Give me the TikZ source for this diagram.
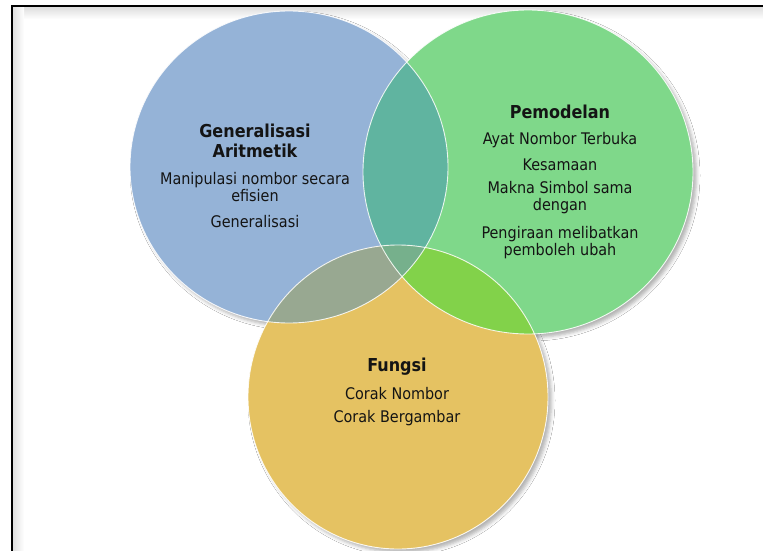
\documentclass[tikz,border=0pt]{standalone}
\usepackage{fontspec}
\setmainfont{DejaVu Sans Condensed}
\usetikzlibrary{shadows.blur}
\definecolor{cblue}{RGB}{149,179,215}
\definecolor{cgreen}{RGB}{127,216,138}
\definecolor{cyellow}{RGB}{229,194,98}
\definecolor{cbg}{RGB}{96,180,160}
\definecolor{cby}{RGB}{152,168,145}
\definecolor{cgy}{RGB}{130,210,74}
\definecolor{cbgy}{RGB}{118,176,140}
\definecolor{ctext}{RGB}{20,20,20}
\tikzset{
  ttl/.style={font=\bfseries\fontsize{17.8}{19.5}\selectfont, text=ctext, align=center, inner sep=0pt},
  itm/.style={font=\fontsize{16}{16.5}\selectfont, text=ctext, align=center, inner sep=0pt},
  shd/.style={blur shadow={shadow xshift=3.5pt, shadow yshift=-3.5pt, shadow blur radius=3.5pt, shadow opacity=30}},
  rim/.style={draw=white, line width=0.9pt, draw opacity=0.85}
}
\newcommand{\blueC}{(289,167) ellipse [x radius=159, y radius=156]}
\newcommand{\greenC}{(528,172) ellipse [x radius=165, y radius=162]}
\newcommand{\yellowC}{(398,397) ellipse [x radius=150, y radius=152]}
\begin{document}
\begin{tikzpicture}[x=1pt,y=-1pt]
\useasboundingbox (0,0) rectangle (763,551);
\fill[white] (0,0) rectangle (763,551);
% inner shadow of frame
\shade[top color=black!13, bottom color=white] (12,7) rectangle (763,19);
\shade[left color=black!13, right color=white] (12,7) rectangle (24,551);
\fill[white] (24,19) rectangle (763,551);
% frame
\draw[line width=2pt, black] (12,552) -- (12,6) -- (764,6);
% shadows
\fill[white, shd] \blueC;
\fill[white, shd] \greenC;
\fill[white, shd] \yellowC;
% base fills
\fill[cblue] \blueC;
\fill[cgreen] \greenC;
\fill[cyellow] \yellowC;
% overlaps
\begin{scope}\clip \blueC; \fill[cbg] \greenC; \end{scope}
\begin{scope}\clip \blueC; \fill[cby] \yellowC; \end{scope}
\begin{scope}\clip \greenC; \fill[cgy] \yellowC; \end{scope}
\begin{scope}\clip \blueC; \clip \greenC; \fill[cbgy] \yellowC; \end{scope}
% rims
\path[rim] \blueC;
\path[rim] \greenC;
\path[rim] \yellowC;
% texts
\node[ttl] (t1) at (255,141) {Generalisasi\\Aritmetik};
\node[itm] (a1) at (255,187) {Manipulasi nombor secara\\efisien};
\node[itm] (a2) at (255,222) {Generalisasi};
\node[ttl] (t2) at (560,112) {Pemodelan};
\node[itm] (b1) at (560,140) {Ayat Nombor Terbuka};
\node[itm] (b2) at (560,165) {Kesamaan};
\node[itm] (b3) at (560,197.5) {Makna Simbol sama\\dengan};
\node[itm] (b4) at (560,242.5) {Pengiraan melibatkan\\pemboleh ubah};
\node[ttl] (t3) at (397,367) {Fungsi};
\node[itm] (c1) at (397,394) {Corak Nombor};
\node[itm] (c2) at (397,418) {Corak Bergambar};
\end{tikzpicture}
\end{document}
